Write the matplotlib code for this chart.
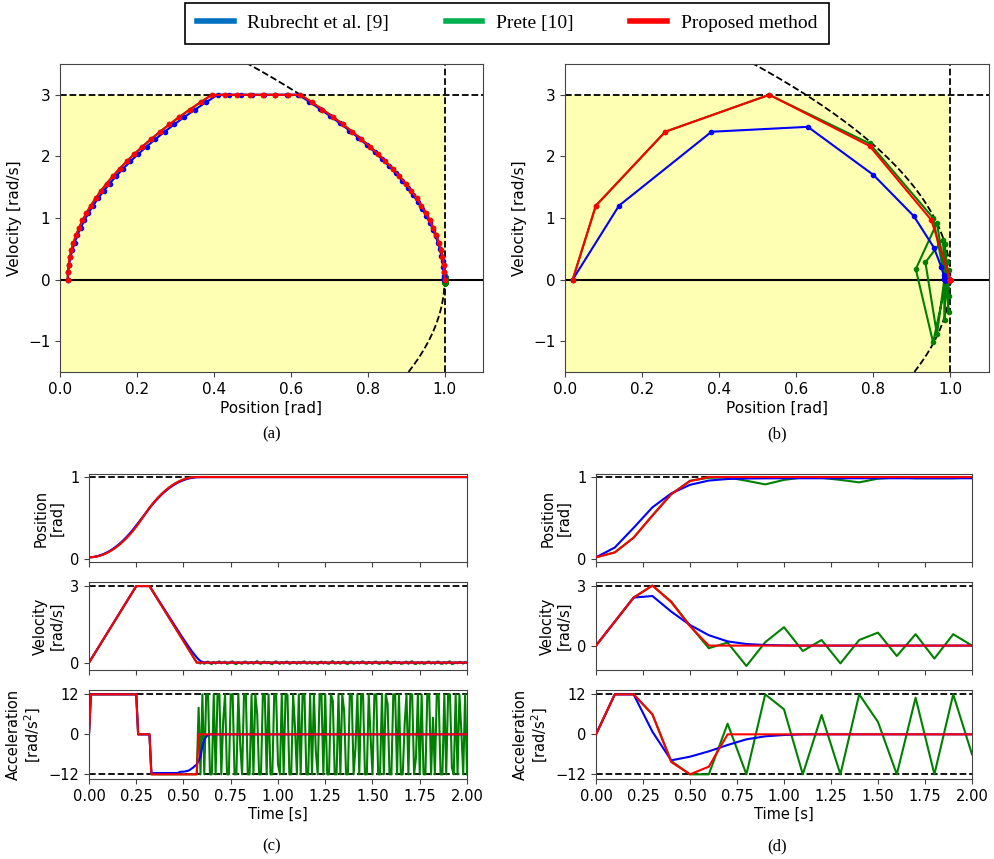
import numpy as np
import matplotlib
matplotlib.use('Agg')
import matplotlib.pyplot as plt
from matplotlib.lines import Line2D

# limits of the joint
X_MAX = 1.0
V_MAX = 3.0
A_MAX = 12.0

# ---- fine sampling (dt = 0.01 s), panels (a) and (c) ----
DT_FINE = 0.01

ramp_v = [0, 0.12, 0.24, 0.36, 0.48, 0.6, 0.72, 0.84, 0.96, 1.08, 1.2, 1.32, 1.44,
          1.56, 1.68, 1.8, 1.92, 2.04, 2.16, 2.28, 2.4, 2.52, 2.64, 2.76, 2.88, 3.0]

# proposed method
prop_fine_x = [0.02, 0.0206, 0.0224, 0.0254, 0.0296, 0.035, 0.0416, 0.0494, 0.0584, 0.0686,
               0.08, 0.0926, 0.1064, 0.1214, 0.1376, 0.155, 0.1736, 0.1934, 0.2144, 0.2366,
               0.26, 0.2846, 0.3104, 0.3374, 0.3656, 0.395,
               0.428, 0.461, 0.494, 0.527, 0.559, 0.592, 0.625,
               0.6544, 0.6826, 0.7096, 0.7354, 0.76, 0.7834, 0.8056, 0.8266, 0.8464, 0.865,
               0.8824, 0.8986, 0.9136, 0.9274, 0.94, 0.9514, 0.9616, 0.9706, 0.9784, 0.985,
               0.9904, 0.9946, 0.9976, 0.9994, 1.0]
prop_fine_v = ramp_v + [3.0] * 7 + [2.88, 2.76, 2.64, 2.52, 2.4, 2.28, 2.16, 2.04, 1.92, 1.8,
                                    1.68, 1.56, 1.44, 1.32, 1.2, 1.08, 0.96, 0.84, 0.72, 0.6,
                                    0.48, 0.36, 0.24, 0.12, 0.0]
prop_fine_a = [0] + [12] * 25 + [0] * 7 + [-12] * 25

# Rubrecht et al.
rub_fine_x = [0.02, 0.0212, 0.0236, 0.0272, 0.032, 0.038, 0.0452, 0.0536, 0.0632, 0.074,
              0.086, 0.0992, 0.1136, 0.1292, 0.146, 0.164, 0.1832, 0.2036, 0.2252, 0.248,
              0.272, 0.2972, 0.3236, 0.3512, 0.38, 0.41,
              0.44, 0.47, 0.50, 0.53, 0.56, 0.59, 0.62,
              0.6488, 0.6765, 0.7030, 0.7284, 0.7526, 0.7756, 0.7975, 0.8182, 0.8378, 0.8562,
              0.8734, 0.8895, 0.9044, 0.9182, 0.9308, 0.9423, 0.9526, 0.9619, 0.9700, 0.9770,
              0.9830, 0.9879, 0.9918, 0.9947, 0.9968, 0.9980, 0.9986, 0.9989, 0.9990, 0.9990,
              0.9990]
rub_fine_v = ramp_v + [3.0] * 7 + [2.884, 2.768, 2.652, 2.536, 2.42, 2.304, 2.188, 2.072,
                                   1.956, 1.84, 1.724, 1.608, 1.492, 1.376, 1.26, 1.147,
                                   1.035, 0.923, 0.812, 0.702, 0.594, 0.49, 0.39, 0.295,
                                   0.205, 0.125, 0.06, 0.025, 0.009, 0.002, 0.0]
rub_fine_a = [0] + [12] * 25 + [0] * 7 + [-11.6] * 15 + [-11.3, -11.2, -11.2, -11.1, -11.0,
                                                         -10.8, -10.4, -10.0, -9.5, -9.0,
                                                         -8.0, -6.5, -3.5, -1.6, -0.7, -0.2]

# Prete: same approach as the proposed method, then chatters at the limit
prete_tail_v = [0.0, -0.04, 0.03, -0.05, 0.02, 0.04, -0.03, -0.06, 0.03, -0.04,
                0.02, 0.05, -0.03, 0.01, 0.04, -0.05, -0.03, 0.03, 0.05, -0.04,
                -0.06, 0.02, -0.02, -0.05, 0.03, 0.04, -0.04, -0.02, 0.03, -0.05,
                0.02, 0.06, -0.03, -0.05, 0.02, 0.04, -0.03, 0.03, -0.04, -0.06,
                0.02, 0.05, -0.02, -0.05, 0.03, -0.04, 0.03, 0.04, -0.05, -0.03,
                0.03, 0.01, -0.05, 0.03, -0.04, 0.03, 0.05, -0.04, -0.03, 0.04,
                -0.05, 0.03, -0.02, -0.06, 0.02, 0.04, -0.04, 0.03, -0.03, -0.05,
                0.03, 0.06, -0.04, -0.03, 0.03, -0.05, 0.02, 0.05, -0.04, -0.06,
                0.03, 0.04, -0.05, -0.02, 0.03, -0.04, 0.03, 0.05, -0.03, -0.05,
                0.03, -0.01, -0.05, 0.03, 0.04, -0.04, -0.05, 0.03, -0.04, 0.03,
                0.06, -0.04, -0.05, 0.02, 0.04, -0.03, 0.03, -0.05, -0.04, 0.02,
                0.04, -0.05, 0.03, 0.05, -0.04, -0.06, 0.02, -0.04, 0.03, -0.05,
                -0.04, 0.03, 0.04, -0.04, 0.01, -0.05, 0.03, 0.04, -0.04, -0.05,
                0.03, -0.04, 0.03, 0.05, -0.06, -0.04, 0.02, -0.03, 0.03, 0.01,
                -0.04, 0.03, -0.02]
prete_tail_a = [8, -12, 12, -12, 12, 12, -12, -12, 12, -12,
                12, 12, -12, 4, 12, -12, -12, 12, 12, -12,
                -12, 12, -3, -12, 12, 12, -12, -12, 12, -12,
                12, 6, -12, -12, 12, 12, -12, 12, -12, -12,
                12, 12, -9, -12, 12, -12, 12, 12, -12, -12,
                12, 2, -12, 12, -12, 12, 12, -12, -12, 12,
                -12, 12, -5, -12, 12, 12, -12, 12, -12, -12,
                12, 10, -12, -12, 12, -12, 12, 7, -12, -12,
                12, 12, -12, -4, 12, -12, 12, 12, -12, -12,
                12, -1, -12, 12, 12, -12, -12, 12, -12, 12,
                9, -12, -12, 12, 12, -12, 12, -12, -12, 3,
                12, -12, 12, 12, -12, -7, 12, -12, 12, -12,
                -12, 12, 12, -12, 5, -12, 12, 12, -12, -12,
                12, -12, 12, 12, -10, -12, 12, -12, 12, 1,
                -12, 12, -12]
N_FINE = 201

prete_fine_x = prop_fine_x + [1.0] * (N_FINE - len(prop_fine_x))
prete_fine_v = prop_fine_v + prete_tail_v
prete_fine_a = prop_fine_a + prete_tail_a
prop_fine_xs = prop_fine_x + [1.0] * (N_FINE - len(prop_fine_x))
prop_fine_vs = prop_fine_v + [0.0] * (N_FINE - len(prop_fine_v))
prop_fine_as = prop_fine_a + [0.0] * (N_FINE - len(prop_fine_a))
rub_fine_xs = rub_fine_x + [0.999] * (N_FINE - len(rub_fine_x))
rub_fine_vs = rub_fine_v + [0.0] * (N_FINE - len(rub_fine_v))
rub_fine_as = rub_fine_a + [0.0] * (N_FINE - len(rub_fine_a))

# ---- coarse sampling (dt = 0.1 s), panels (b) and (d) ----
DT_COARSE = 0.1
prop_coarse_x = [0.02, 0.08, 0.26, 0.53, 0.79, 0.95, 1.0] + [1.0] * 14
prop_coarse_v = [0, 1.2, 2.4, 3.0, 2.17, 0.97, 0] + [0] * 14
prop_coarse_a = [0, 12, 12, 6, -8.3, -12, -9.7, 0] + [0] * 13

rub_coarse_x = [0.02, 0.14, 0.38, 0.63, 0.80, 0.905, 0.957, 0.976, 0.982, 0.984, 0.985] + [0.985] * 10
rub_coarse_v = [0, 1.2, 2.4, 2.48, 1.7, 1.03, 0.52, 0.21, 0.08, 0.03, 0.01] + [0] * 10
rub_coarse_a = [0, 12, 12, 0.8, -7.8, -6.7, -5.1, -3.2, -1.5, -0.6, -0.2] + [0] * 10

prete_coarse_x = [0.02, 0.08, 0.26, 0.53, 0.79, 0.955, 0.99, 0.995, 0.955, 0.91, 0.965,
                  0.995, 0.99, 0.965, 0.935, 0.98, 0.995, 0.985, 0.985, 0.985, 0.995]
prete_coarse_v = [0, 1.2, 2.4, 3.0, 2.21, 1.0, -0.13, 0.15, -1.02, 0.17, 0.92,
                  -0.27, 0.28, -0.89, 0.28, 0.65, -0.52, 0.57, -0.65, 0.57, 0.0]
prete_coarse_a = [0, 12, 12, 6, -8, -12, -12, 3.2, -12, 12, 7.5,
                  -12, 5.8, -12, 12, 3.7, -12, 11, -12, 12, -6]

W, H = 995, 859


def rect(l, t, r, b):
    return [l / W, 1 - b / H, (r - l) / W, (b - t) / H]


def style(ax, size):
    for s in ax.spines.values():
        s.set_color('#444444')
    ax.tick_params(labelsize=size, color='#444444')


fig = plt.figure(figsize=(W / 100, H / 100), dpi=100)

# phase plane panels
for rr, data, lab, lx in [((60, 64, 483, 372),
                           [(prete_fine_x, prete_fine_v), (rub_fine_x, rub_fine_v), (prop_fine_x, prop_fine_v)],
                           '(a)', 272),
                          ((565, 64, 989, 372),
                           [(prete_coarse_x, prete_coarse_v), (rub_coarse_x, rub_coarse_v),
                            (prop_coarse_x, prop_coarse_v)],
                           '(b)', 777)]:
    ax = fig.add_axes(rect(*rr))
    ax.fill_between([0, X_MAX], -1.5, V_MAX, color='#ffffb3', lw=0, zorder=0)
    vb = np.linspace(-1.5, 3.5, 300)
    ax.plot(X_MAX - vb ** 2 / (2 * A_MAX), vb, 'k--', lw=1.3, zorder=1)
    ax.axhline(V_MAX, color='k', ls='--', lw=1.3, zorder=1)
    ax.axvline(X_MAX, color='k', ls='--', lw=1.3, zorder=1)
    ax.axhline(0, color='k', lw=1.5, zorder=1)
    for (xs, vs), c in zip(data, ['green', 'blue', 'red']):
        ax.plot(xs, vs, color=c, lw=1.5, marker='o', ms=3, zorder=3)
    ax.set_xlim(0, 1.1)
    ax.set_ylim(-1.5, 3.5)
    ax.set_xticks([0, 0.2, 0.4, 0.6, 0.8, 1.0])
    ax.set_yticks([-1, 0, 1, 2, 3])
    ax.set_xlabel('Position [rad]', fontsize=11, labelpad=3)
    ax.set_ylabel('Velocity [rad/s]', fontsize=11)
    style(ax, 11)
    fig.text(lx / W, 1 - 434 / H, lab, ha='center', va='center',
             fontfamily='Liberation Serif', fontsize=12)

# time series panels
rows = [(474, 562, 'Position\n[rad]', [0, 1], [X_MAX], (-0.037, 1.037)),
        (582, 670, 'Velocity\n[rad/s]', [0, 3], [V_MAX], None),
        (690, 779, 'Acceleration\n[rad/s$^2$]', [-12, 0, 12], [A_MAX, -A_MAX], (-13.4, 13.3))]

cols = [(89, 467, DT_FINE,
         [[prete_fine_x, rub_fine_xs, prop_fine_xs],
          [prete_fine_v, rub_fine_vs, prop_fine_vs],
          [prete_fine_a, rub_fine_as, prop_fine_as]], '(c)', 272, (-0.29, 3.16)),
        (596, 972, DT_COARSE,
         [[prete_coarse_x, rub_coarse_x, prop_coarse_x],
          [prete_coarse_v, rub_coarse_v, prop_coarse_v],
          [prete_coarse_a, rub_coarse_a, prop_coarse_a]], '(d)', 777, (-1.22, 3.18))]

for left, right, dt, series, lab, lx, vlim in cols:
    for i, (top, bot, ylab, yt, lims, ylim) in enumerate(rows):
        ax = fig.add_axes(rect(left, top, right, bot))
        for lim in lims:
            ax.axhline(lim, color='k', ls='--', lw=1.3, zorder=1)
        for ys, c in zip(series[i], ['green', 'blue', 'red']):
            t = np.arange(len(ys)) * dt
            ax.plot(t, ys, color=c, lw=1.5, zorder=3)
        ax.set_xlim(0, 2.0)
        ax.set_ylim(ylim if ylim is not None else vlim)
        ax.set_yticks(yt)
        ax.set_xticks(np.arange(0, 2.01, 0.25))
        ax.set_ylabel(ylab, fontsize=10.5, linespacing=1.1)
        if i < 2:
            ax.set_xticklabels([])
        else:
            ax.set_xticklabels(['%.2f' % v for v in np.arange(0, 2.01, 0.25)])
            ax.set_xlabel('Time [s]', fontsize=10.5, labelpad=2)
        style(ax, 10.5)
    fig.text(lx / W, 1 - 846 / H, lab, ha='center', va='center',
             fontfamily='Liberation Serif', fontsize=12)

handles = [Line2D([], [], color='#0070C0', lw=4),
           Line2D([], [], color='#00B050', lw=4),
           Line2D([], [], color='#FF0000', lw=4)]
leg = fig.legend(handles, ['Rubrecht et al. [9]', 'Prete [10]', 'Proposed method'],
                 loc='upper center', bbox_to_anchor=(0.5095, 0.9965), ncol=3,
                 fancybox=False, edgecolor='black', framealpha=1, borderaxespad=0,
                 prop={'family': 'Liberation Serif', 'size': 14},
                 handlelength=1.9, handletextpad=0.7, columnspacing=2.9, borderpad=0.6)
leg.get_frame().set_linewidth(1.2)

fig.savefig('out.png', dpi=100)
